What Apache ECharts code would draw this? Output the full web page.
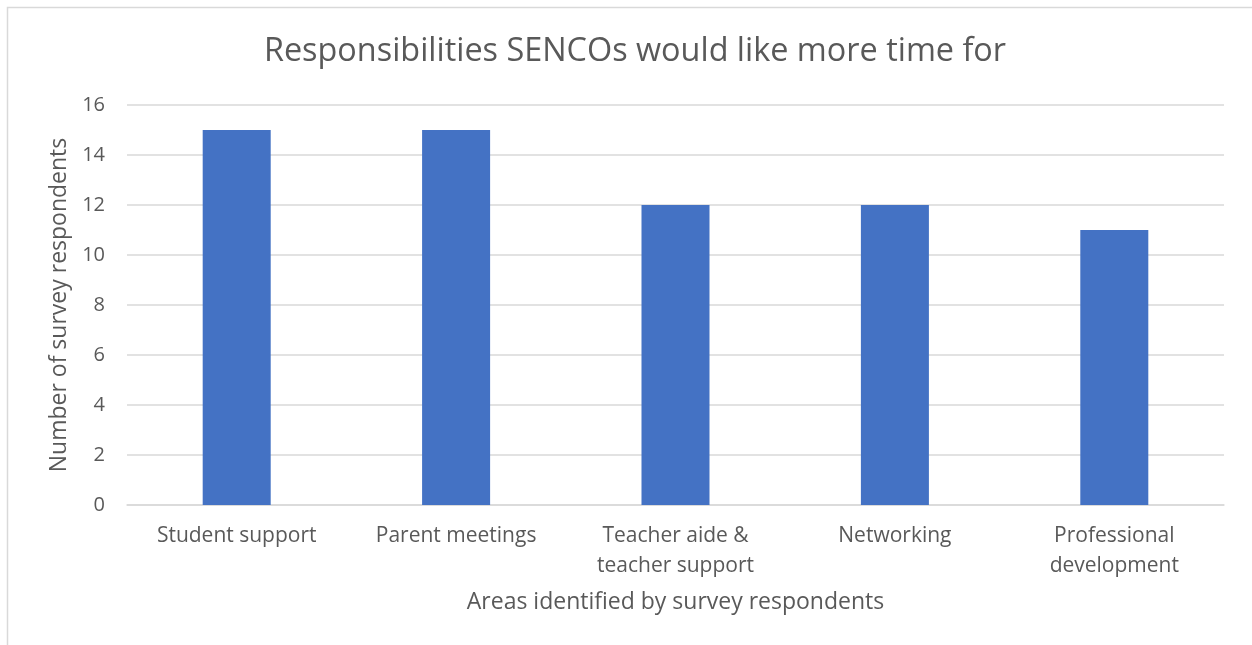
<!DOCTYPE html>
<html>
<head>
<meta charset="utf-8">
<script src="https://cdn.jsdelivr.net/npm/echarts@6/dist/echarts.min.js"></script>
<style>
  html, body { margin: 0; padding: 0; background: #fff; }
  #chart { width: 1252px; height: 645px; }
</style>
</head>
<body>
<div id="chart"></div>
<script>
// Survey areas and number of respondents for each
const categories = ['Student support', 'Parent meetings', 'Teacher aide &\nteacher support', 'Networking', 'Professional\ndevelopment'];
const respondents = [15, 15, 12, 12, 11];
const yTicks = { min: 0, max: 16, interval: 2 };

const textColor = '#595959';
const fontFamily = '"Open Sans", "Noto Sans", sans-serif';

const chart = echarts.init(document.getElementById('chart'), null, { renderer: 'canvas' });
chart.setOption({
  backgroundColor: '#ffffff',
  animation: false,
  textStyle: { fontFamily: fontFamily, color: textColor },
  graphic: [{
    type: 'rect',
    shape: { x: 7.5, y: 7.5, width: 1300, height: 700 },
    style: { fill: 'none', stroke: '#d9d9d9', lineWidth: 1.5 },
    silent: true
  }],
  title: {
    text: 'Responsibilities SENCOs would like more time for',
    left: 630,
    top: 31,
    textAlign: 'center',
    textStyle: { fontFamily: fontFamily, fontSize: 32.4, fontWeight: 'normal', color: textColor }
  },
  grid: { left: 127, right: 28, top: 105, bottom: 140, containLabel: false },
  xAxis: {
    type: 'category',
    data: categories,
    name: 'Areas identified by survey respondents',
    nameLocation: 'middle',
    nameGap: 86,
    nameTextStyle: { fontSize: 23, color: textColor, fontFamily: fontFamily },
    axisLine: { lineStyle: { color: '#d9d9d9', width: 1.5 } },
    axisTick: { show: false },
    axisLabel: { fontSize: 21, color: textColor, margin: 16, lineHeight: 30, fontFamily: fontFamily }
  },
  yAxis: {
    type: 'value',
    min: yTicks.min,
    max: yTicks.max,
    interval: yTicks.interval,
    name: 'Number of survey respondents',
    nameLocation: 'middle',
    nameGap: 55,
    nameTextStyle: { fontSize: 23, color: textColor, fontFamily: fontFamily },
    axisLine: { show: false },
    axisTick: { show: false },
    axisLabel: { fontSize: 20, color: textColor, margin: 22, fontFamily: fontFamily },
    splitLine: { lineStyle: { color: '#d9d9d9', width: 1.5 } }
  },
  series: [{
    type: 'bar',
    data: respondents,
    barWidth: '31%',
    itemStyle: { color: '#4472C4' }
  }]
});
</script>
</body>
</html>
